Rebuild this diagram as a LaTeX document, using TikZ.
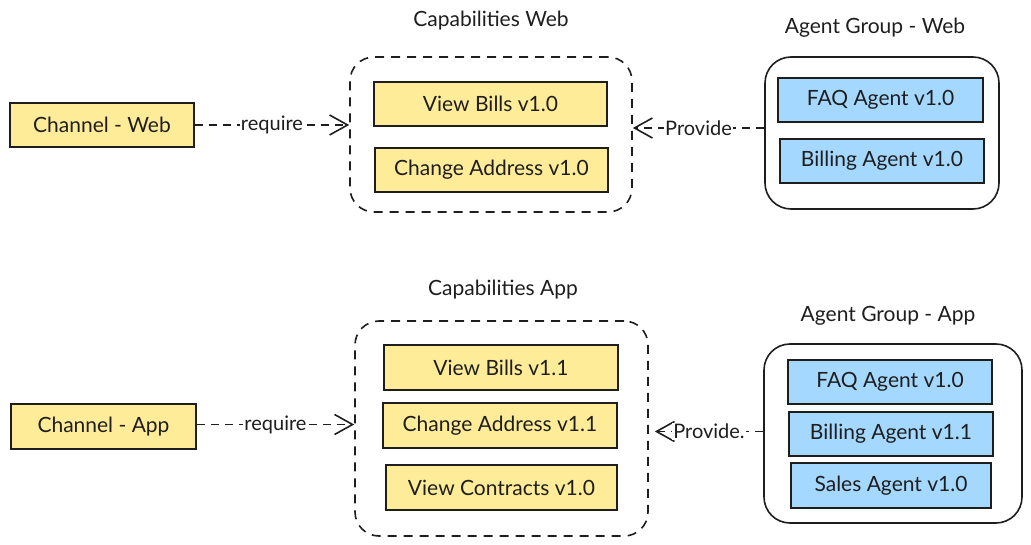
\documentclass[tikz,border=0pt]{standalone}
\usepackage{fontspec}
\setmainfont{Lato}
\usepackage{tikz}
\usetikzlibrary{arrows.meta, positioning}
\definecolor{ink}{HTML}{1E1E1E}
\definecolor{capyellow}{HTML}{FFEC99}
\definecolor{agentblue}{HTML}{A5D8FF}

\begin{document}
\begin{tikzpicture}[x=1pt, y=-1pt, >={Straight Barb[length=18pt, width=20pt, line width=1.6pt]},
    font=\fontsize{21}{25}\selectfont, text=ink,
    capbox/.style={draw=ink, fill=capyellow, line width=1.5pt, inner sep=0pt, minimum height=44pt},
    agentbox/.style={draw=ink, fill=agentblue, line width=1.5pt, inner sep=0pt, minimum height=44pt},
    capgroup/.style={draw=ink, line width=1.6pt, dash pattern=on 9pt off 7pt, rounded corners=24pt, inner sep=0pt},
    agentgroup/.style={draw=ink, line width=1.6pt, rounded corners=26pt, inner sep=0pt},
    grouplabel/.style={font=\fontsize{21}{25}\selectfont},
    link/.style={->, draw=ink, line width=1.6pt, dash pattern=on 8pt off 6pt},
    linklabel/.style={fill=white, inner sep=1pt, font=\fontsize{20}{24}\selectfont}]
  \useasboundingbox (0,0) rectangle (1031,545);

  % web
  \node [capbox, minimum width=184pt] (chweb) at (102,125) {Channel - Web};
  \node [capgroup, minimum width=282pt, minimum height=155pt] (capweb) at (491,134.5) {};
  \node [grouplabel] (capweblbl) at (491,21) {Capabilities Web};
  \node [capbox, minimum width=233pt] (billsweb) at (490.5,104) {View Bills v1.0};
  \node [capbox, minimum width=233pt] (addrweb) at (491.5,170) {Change Address v1.0};
  \node [agentgroup, minimum width=234pt, minimum height=152pt] (grpweb) at (882,133) {};
  \node [grouplabel] (grpweblbl) at (875,28) {Agent Group - Web};
  \node [agentbox, minimum width=205pt] (faqweb) at (880.5,100) {FAQ Agent v1.0};
  \node [agentbox, minimum width=204pt] (billingweb) at (882,161) {Billing Agent v1.0};
  \draw [link] (chweb.east) -- node [linklabel] {require} (chweb.east -| capweb.west);
  \draw [link] (grpweb.west) ++(0,-5) coordinate (provweb) -- node [linklabel] {Provide} (provweb -| capweb.east);

  % app
  \node [capbox, minimum width=185pt, minimum height=45pt] (chapp) at (103.5,426.5) {Channel - App};
  \node [capgroup, minimum width=293pt, minimum height=215pt] (capapp) at (501.5,428.5) {};
  \node [grouplabel] (capapplbl) at (503,290) {Capabilities App};
  \node [capbox, minimum width=234pt, minimum height=45pt] (billsapp) at (501,367.5) {View Bills v1.1};
  \node [capbox, minimum width=234pt, minimum height=45pt] (addrapp) at (500,425.5) {Change Address v1.1};
  \node [capbox, minimum width=231pt, minimum height=45pt] (contractsapp) at (501.5,487.5) {View Contracts v1.0};
  \node [agentgroup, minimum width=258pt, minimum height=179pt] (grpapp) at (893,433.5) {};
  \node [grouplabel] (grpapplbl) at (888,316) {Agent Group - App};
  \node [agentbox, minimum width=204pt] (faqapp) at (890,382) {FAQ Agent v1.0};
  \node [agentbox, minimum width=204pt] (billingapp) at (891,434) {Billing Agent v1.1};
  \node [agentbox, minimum width=200pt, minimum height=45pt] (salesapp) at (891,485.5) {Sales Agent v1.0};
  \draw [link] (chapp.east) ++(0,-2) coordinate (reqapp) -- node [linklabel] {require} (reqapp -| capapp.west);
  \draw [link, shorten >=6pt] (grpapp.west) ++(0,-2) coordinate (provapp) -- node [linklabel, xshift=3pt] {Provide.} (provapp -| capapp.east);
\end{tikzpicture}
\end{document}
